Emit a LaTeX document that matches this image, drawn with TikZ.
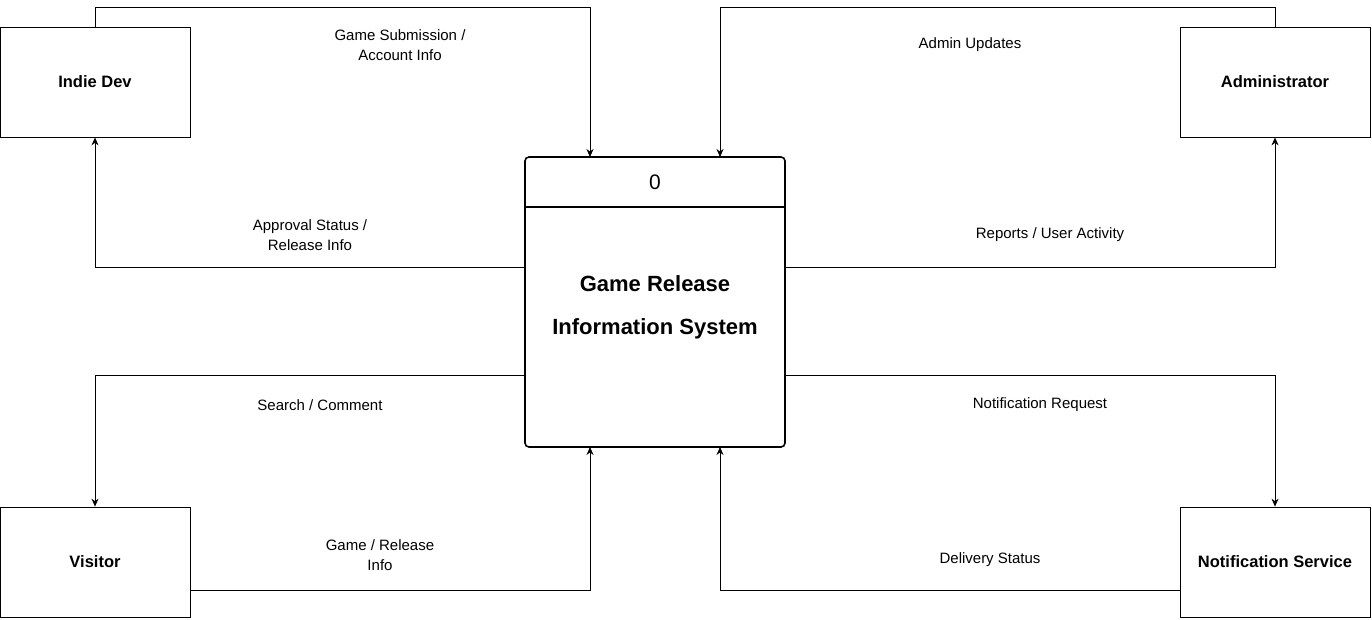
\documentclass[tikz,border=0pt]{standalone}
\usepackage{fontspec}
\setmainfont{Liberation Sans}
\usetikzlibrary{arrows.meta}
\begin{document}
\begin{tikzpicture}[x=1pt,y=-1pt,
 ent/.style={draw,line width=0.8pt,minimum width=190pt,minimum height=110pt,font=\bfseries\fontsize{16.5}{19}\selectfont,inner sep=0pt},
 flow/.style={draw,line width=0.8pt,-{Stealth[length=8pt,width=7pt]}},
 lab/.style={font=\fontsize{15}{20}\selectfont,align=center}]
\useasboundingbox (0,0) rectangle (1372,619);
\node[ent] (dev) at (95,82) {Indie Dev};
\node[ent] (adm) at (1275,82) {Administrator};
\node[ent] (vis) at (95,562) {Visitor};
\node[ent] (ns) at (1275,562) {Notification Service};
\node[draw,line width=1.6pt,rounded corners=4pt,minimum width=260pt,minimum height=290pt,inner sep=0pt] (sys) at (655,302) {};
\draw[line width=1.6pt] (525,207) -- (785,207);
\node[font=\fontsize{21}{24}\selectfont] (num) at (655,182) {0};
\node[font=\bfseries\fontsize{22}{43}\selectfont,align=center] (title) at (655,307) {Game Release\\Information System};
\coordinate (s1) at (590,157); \coordinate (s2) at (720,157);
\coordinate (s3) at (590,447); \coordinate (s4) at (720,447);
\coordinate (l1) at (525,267); \coordinate (l2) at (525,375);
\coordinate (r1) at (785,267); \coordinate (r2) at (785,375);
\draw[flow] (dev.north) -- (95,7) -| (s1);
\draw[flow] (l1) -| (dev.south);
\draw[flow] (adm.north) -- (1275,7) -| (s2);
\draw[flow] (r1) -| (adm.south);
\draw[flow] (l2) -| (vis.north);
\draw[flow] (vis.east |- 0,590) -| (s3);
\draw[flow] (r2) -| (ns.north);
\draw[flow] (ns.west |- 0,590) -| (s4);
\node[lab] (t1) at (400,45) {Game Submission /\\Account Info};
\node[lab] (t2) at (310,235) {Approval Status /\\Release Info};
\node[lab] (t3) at (970,45) {Admin Updates};
\node[lab] (t4) at (1050,235) {Reports / User Activity};
\node[lab] (t5) at (320,405) {Search / Comment};
\node[lab] (t6) at (380,555) {Game / Release\\Info};
\node[lab] (t7) at (1040,405) {Notification Request};
\node[lab] (t8) at (990,560) {Delivery Status};
\end{tikzpicture}
\end{document}
